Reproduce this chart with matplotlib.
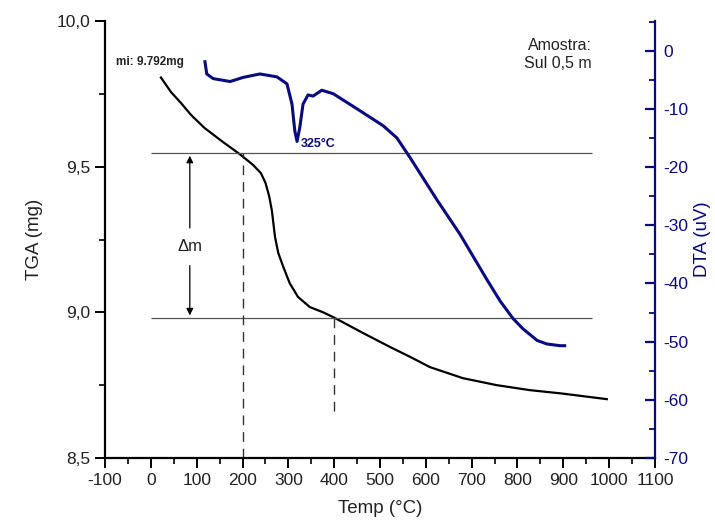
import matplotlib
matplotlib.use("Agg")
import matplotlib.pyplot as plt
from matplotlib.ticker import MultipleLocator, FuncFormatter

plt.rcParams['font.family'] = ['Liberation Sans', 'DejaVu Sans']
plt.rcParams['axes.unicode_minus'] = False

# TGA data (Temp °C, mass mg)
tga_temp = [22, 44, 66, 88, 117, 157, 194, 223, 240, 250, 258, 264, 271, 278, 289, 303, 321, 347, 376,
            400, 463, 522, 566, 609, 681, 755, 827, 899, 995]
tga_mass = [9.806, 9.756, 9.718, 9.677, 9.633, 9.585, 9.543, 9.506, 9.478, 9.445, 9.40, 9.35, 9.258, 9.204,
            9.156, 9.10, 9.053, 9.018, 9.00, 8.982, 8.929, 8.881, 8.847, 8.812, 8.774, 8.750, 8.733,
            8.721, 8.702]

# DTA data (Temp °C, uV)
dta_temp = [118, 122, 136, 173, 201, 238, 275, 297, 308, 314, 319, 325, 332, 343, 354, 373, 398,
            450, 507, 537, 565, 624, 675, 733, 762, 790, 812, 843, 864, 893, 903]
dta_val = [-1.9, -4.0, -4.8, -5.3, -4.6, -4.0, -4.5, -5.7, -9.2, -13.7, -15.6, -13.2, -9.2, -7.6,
           -7.8, -6.8, -7.4, -10.0, -12.9, -15.0, -18.3, -25.6, -31.6, -39.3, -43.0, -46.0, -47.8,
           -49.8, -50.4, -50.7, -50.7]

m_top = 9.547
m_bot = 8.98
t_a = 200
t_b = 400

fig = plt.figure(figsize=(7.15, 5.25), dpi=100)
ax = fig.add_axes([0.1469, 0.1276, 0.7691, 0.8324])
ax.set_xlim(-100, 1100)
ax.set_ylim(8.5, 10.0)

for s in ['top', 'right']:
    ax.spines[s].set_visible(False)
for s in ['left', 'bottom']:
    ax.spines[s].set_linewidth(1.6)

ax.plot(tga_temp, tga_mass, color='black', lw=1.6, solid_joinstyle='round')

# Guide lines
ax.hlines([m_top, m_bot], 0, 962, color='#555555', lw=0.9)
ax.vlines(t_a, 8.5, m_top, colors='#333333', linestyles=(0, (7, 5)), lw=1.0)
ax.vlines(t_b, 8.66, m_bot, colors='#333333', linestyles=(0, (7, 5)), lw=1.0)

# Delta m arrow
ax.annotate('', xy=(85, m_top), xytext=(85, 9.28),
            arrowprops=dict(arrowstyle='-|>', color='black', lw=0.9, mutation_scale=10))
ax.annotate('', xy=(85, m_bot), xytext=(85, 9.17),
            arrowprops=dict(arrowstyle='-|>', color='black', lw=0.9, mutation_scale=10))
ax.text(85, 9.225, 'Δm', ha='center', va='center', fontsize=12, color='#222222')

ax.text(-3, 9.86, 'mi: 9.792mg', ha='center', va='center', fontsize=8.5,
        fontweight='bold', color='#222222')
ax.text(962, 9.885, 'Amostra:\nSul 0,5 m', ha='right', va='center', fontsize=11.5,
        color='#222222', linespacing=1.25)

ax.xaxis.set_major_locator(MultipleLocator(100))
ax.xaxis.set_minor_locator(MultipleLocator(50))
ax.yaxis.set_major_locator(MultipleLocator(0.5))
ax.yaxis.set_minor_locator(MultipleLocator(0.25))
ax.yaxis.set_major_formatter(FuncFormatter(lambda v, p: f"{v:.1f}".replace('.', ',')))
ax.tick_params(axis='both', which='major', direction='out', length=7, width=1.4,
               labelsize=12.5, colors='black', labelcolor='#222222')
ax.tick_params(axis='both', which='minor', direction='out', length=4, width=1.2)

ax.set_xlabel('Temp (°C)', fontsize=13.5, color='#222222', labelpad=9)
ax.set_ylabel('TGA (mg)', fontsize=13.5, color='#222222', labelpad=10)

# DTA axis
navy = '#0a0a80'
ax2 = ax.twinx()
ax2.set_ylim(-70, 5.1)
for s in ['top', 'left', 'bottom']:
    ax2.spines[s].set_visible(False)
ax2.spines['right'].set_color(navy)
ax2.spines['right'].set_linewidth(1.6)
ax2.plot(dta_temp, dta_val, color=navy, lw=2.2, solid_joinstyle='round')
ax2.text(328, -16.0, '325°C', ha='left', va='center', fontsize=9,
         fontweight='bold', color=navy)
ax2.yaxis.set_major_locator(MultipleLocator(10))
ax2.yaxis.set_minor_locator(MultipleLocator(5))
ax2.tick_params(axis='y', which='major', direction='in', length=7, width=1.6,
                labelsize=12.5, colors=navy, pad=6)
ax2.tick_params(axis='y', which='minor', direction='in', length=4, width=1.3, colors=navy)
ax2.set_ylabel('DTA (uV)', fontsize=13.5, color=navy, labelpad=4)

fig.savefig('out.png', dpi=100)
